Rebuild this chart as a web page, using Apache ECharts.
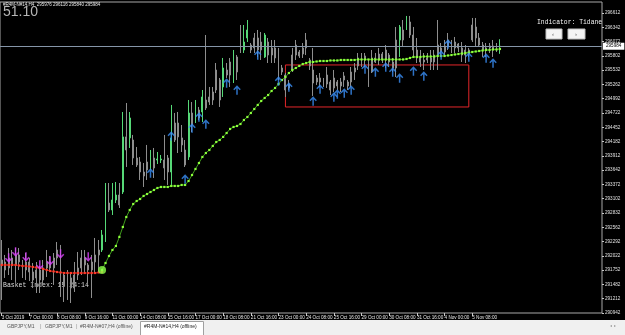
<!DOCTYPE html>
<html><head><meta charset="utf-8">
<script src="https://cdn.jsdelivr.net/npm/echarts@6.0.0/dist/echarts.min.js"></script>
<style>html,body{margin:0;padding:0;background:#000;overflow:hidden}#c{width:625px;height:335px}</style>
</head><body><div id="c"></div><script>
// ---- data ----
const tickLabels = ['3 Oct 2019','7 Oct 00:00','8 Oct 08:00','9 Oct 16:00','11 Oct 00:00','14 Oct 08:00','15 Oct 16:00','17 Oct 00:00','18 Oct 08:00','21 Oct 16:00','23 Oct 00:00','24 Oct 08:00','25 Oct 16:00','29 Oct 00:00','30 Oct 08:00','31 Oct 16:00','4 Nov 00:00','5 Nov 08:00'];
const slotCount = 174; // bars + chart shift space
const categories = Array.from({length: slotCount}, (_, i) => String(i));
// [open, close, low, high]
const candles = [
[291944,291850,291188,292322],[291906,291755,291604,292039],[291982,291793,291660,292171],[291982,291850,291566,292133],[292039,291850,291528,292171],
[292039,291906,291755,292171],[291906,291755,291604,291944],[291906,291755,291566,292076],[291906,291717,291547,291982],[291717,291566,291415,291887],
[291755,291604,291320,291906],[291755,291566,291320,291831],[291793,291566,291472,291944],[291906,291793,291623,292133],[291906,291793,291755,292020],
[291982,291793,291472,292076],[292133,291982,291850,292284],[292133,291660,291245,292228],[291660,291472,291150,291698],[291604,291472,291188,291755],
[291604,291415,291131,291698],[291660,291415,291339,291906],[291793,291660,291566,292095],[291982,291793,291660,292133],[291982,291850,291717,292133],
[291850,291755,291509,291887],[291906,291755,291226,292039],[292039,291906,291698,292360],[292133,292039,291698,292322],[292133,292417,292095,292511],
[292322,293021,292284,293399],[293021,292889,292851,293399],[292889,293078,292794,293399],[293078,293172,293021,293418],[293172,292984,292927,293399],
[293229,294270,293191,294741],[294270,294023,293702,294911],[294251,294628,294061,294741],[294212,293872,293740,294307],[293872,293740,293702,294080],
[293796,293607,293456,293891],[293607,293532,293324,293777],[293796,293645,293456,294118],[293777,293872,293645,294023],[293872,293683,293494,294061],
[293834,293853,293758,293985],[293834,293853,293777,293928],[293834,293683,293456,294307],[293872,293607,293362,293928],[293607,294251,293362,294874],
[294533,294212,294174,294722],[294533,294270,293966,294741],[294251,294118,293985,294495],[294023,293740,293702,294212],[293891,294722,293834,294968],
[294722,294495,294363,294930],[294647,294779,294533,294968],[294779,294628,294590,294836],[294741,295025,294552,295157],[294968,294817,294779,296196],
[295025,294930,294874,295214],[295119,294968,294874,295214],[295535,295157,295100,295667],[295346,294968,294836,295384],[295214,295573,295025,295762],
[295535,295440,295384,295667],[295686,295440,295214,295762],[295535,295875,295289,295913],[295781,295497,295346,295818],[296102,295913,295856,296385],
[295913,296064,295856,296385],[296140,296291,296064,296480],[296007,295913,295856,296045],[296140,295951,295856,296234],[296140,295913,295781,296291],
[296064,295913,295724,296253],[295781,296196,295762,296234],[296064,295818,295667,296140],[295951,295818,295667,296102],[295951,295762,295667,296102],
[295818,295535,295346,295951],[295573,295497,295440,295630],[295440,295157,295025,295478],[295270,295195,295157,295346],[295818,295535,295497,295951],
[296007,295818,295724,296102],[295875,295800,295762,295913],[295951,295837,295762,296045],[296102,295951,295818,296234],[295724,295611,295535,295762],
[295535,295289,295044,295951],[295384,295308,295252,295440],[295384,295308,295214,295478],[295346,295270,295214,295384],[295440,295270,295195,295592],
[295308,295157,295062,295346],[295384,295195,295119,295535],[295308,295233,295157,295346],[295308,295233,295119,295384],[295422,295346,295214,295497],
[295308,295233,295157,295346],[295497,295308,295214,295592],[295573,295497,295346,295667],[295762,295611,295535,295856],[295762,295686,295592,295856],
[295800,295724,295592,295856],[295686,295384,295214,295724],[295762,295497,295478,295913],[295762,295686,295667,295856],[295837,295724,295630,295951],
[295837,295724,295667,295875],[295913,295724,295573,296007],[295818,295686,295592,295856],[295686,295573,295497,295762],[296102,295573,295402,296348],
[296102,296348,295781,296385],[296291,296102,295970,296480],[296348,296480,296291,296556],[296442,296196,296140,296556],[296196,295913,295781,296348],
[295913,295762,295667,296140],[295762,295686,295592,295913],[295724,295686,295535,295856],[295762,295724,295667,295856],[295762,295686,295535,295913],
[295818,295686,295535,295913],[296007,295818,295535,296480],[295951,295875,295781,296045],[295989,295875,295781,296102],[296102,295989,295913,296234],
[296064,295951,295856,296102],[296064,295951,295856,296159],[296026,295951,295875,296045],[295951,295818,295686,296064],[295913,295818,295667,296007],
[295913,295837,295781,295951],[296385,296102,296064,296518],[296348,296140,295970,296518],[296140,296007,295970,296234],[296007,295913,295781,296064],
[295951,295913,295781,296045],[295989,295951,295856,296045],[295989,295913,295781,296102],[295970,295913,295875,296045],[295976,295984,295840,296116]
];
const indicatorRed = [291850,291850,291850,291850,291850,291840,291831,291831,291822,291812,291803,291793,291774,291755,291736,291727,291717,291708,291698,291698,291698,291698,291698,291698,291698,291698,291698,291698,291708,291717];
const greenStart = 29;
const indicatorGreen = [
291755,291887,292020,292133,292209,292380,292568,292756,292889,293002,
293059,293097,293154,293191,293229,293267,293305,293324,293324,293324,
293343,293343,293343,293362,293362,293437,293550,293664,293777,293891,
293966,294023,294099,294174,294212,294270,294344,294420,294458,294477,
294514,294590,294647,294722,294798,294874,294949,295006,295062,295138,
295195,295270,295346,295402,295478,295535,295573,295611,295648,295667,
295686,295686,295696,295705,295705,295705,295715,295715,295715,295724,
295724,295724,295724,295724,295734,295734,295734,295734,295734,295734,
295734,295734,295734,295734,295734,295734,295734,295734,295743,295762,
295781,295781,295781,295790,295790,295790,295790,295800,295800,295800,
295809,295818,295828,295837,295847,295856,295866,295875,295885,295894,
295904,295913,295913,295923,295923,295932];
const upIdx = [43,49,53,55,57,59,65,68,74,80,83,90,92,96,97,99,101,105,108,111,113,115,119,122,127,129,135,140,142];
const upPrice = [293588,294288,293475,294439,294647,294514,295289,295157,295818,295327,295214,294949,295176,295025,295081,295100,295157,295554,295497,295592,295497,295384,295516,295422,295818,296026,295781,295762,295667];
const downIdx = [2,4,7,11,14,17,25];
const downPrice = [291982,292095,292001,291850,291925,292058,292001];
const lastPrice = 295984;
const headerText = '#R4M-N#14,H4  295976 296116 295840 295984';
const boxFrom = 82, boxTo = 135, boxHigh = 295630, boxLow = 294836;
const yMin = 290942, yStep = 270, yMax = 296820;

// ---- chart ----
const greenData = Array(greenStart).fill(null).concat(indicatorGreen);
const arrowPath = 'path://M5,0L10,5L8.6,6.4L6,3.8L6,12L4,12L4,3.8L1.4,6.4L0,5Z';
const showTick = (i) => i % 8 === 0 && (i / 8) < tickLabels.length;
const chart = echarts.init(document.getElementById('c'), null, {renderer: 'canvas'});
const F = '"Liberation Sans", Arial, sans-serif';
chart.setOption({
  backgroundColor: '#000',
  animation: false,
  grid: {left: 0, right: 23, top: 2, bottom: 22, show: true, borderColor: '#a8a8a8', borderWidth: 1, backgroundColor: '#000', containLabel: false, outerBoundsMode: 'none'},
  xAxis: {
    type: 'category', data: categories, boundaryGap: true,
    axisLine: {show: false},
    axisTick: {show: true, alignWithLabel: true, interval: showTick, length: 3, lineStyle: {color: '#c8c8c8', width: 1}},
    axisLabel: {interval: showTick, formatter: (v, i) => tickLabels[i / 8] || '', color: '#e6e6e6', fontSize: 4.6, fontFamily: F, align: 'left', margin: 2},
    splitLine: {show: false}
  },
  yAxis: {
    type: 'value', position: 'right', min: yMin, max: yMax, interval: yStep,
    axisLine: {show: false},
    axisTick: {show: true, length: 2, lineStyle: {color: '#c8c8c8'}},
    axisLabel: {color: '#e0e0e0', fontSize: 4.6, fontFamily: F, margin: 3, showMaxLabel: false, formatter: v => String(Math.round(v))},
    splitLine: {show: false}
  },
  series: [
    {
      type: 'candlestick', data: candles, barWidth: 1.4, silent: true, z: 2,
      itemStyle: {color: '#56d977', color0: '#ababab', borderColor: '#56d977', borderColor0: '#8e8e8e', borderColorDoji: '#8e8e8e', borderWidth: 1},
      markLine: {
        silent: true, symbol: ['none', 'none'], animation: false,
        lineStyle: {color: '#8595a8', width: 1, type: 'solid'},
        label: {show: true, position: 'end', distance: 1, formatter: String(lastPrice), color: '#000', backgroundColor: '#fff', fontSize: 4.6, fontFamily: F, padding: [1, 3]},
        data: [{yAxis: lastPrice}]
      },
      markArea: {
        silent: true,
        itemStyle: {color: 'rgba(0,0,0,0)', borderColor: '#e3262a', borderWidth: 1},
        data: [[{xAxis: boxFrom, yAxis: boxHigh}, {xAxis: boxTo, yAxis: boxLow}]]
      }
    },
    {type: 'line', data: indicatorRed, symbol: 'rect', symbolSize: 2.2, showAllSymbol: true, silent: true, z: 4,
      lineStyle: {color: '#b82218', width: 1}, itemStyle: {color: '#ff3a2a'}},
    {type: 'line', data: greenData, symbol: 'rect', symbolSize: 2.2, showAllSymbol: true, silent: true, z: 4, connectNulls: false,
      lineStyle: {color: '#3f9a1c', width: 1}, itemStyle: {color: '#8cff3c'}},
    {type: 'scatter', data: [[greenStart, indicatorGreen[0]]], symbol: 'circle', symbolSize: 8, silent: true, z: 5,
      itemStyle: {color: '#8cff4a'}},
    {type: 'scatter', data: upIdx.map((i, k) => [i, upPrice[k]]), symbol: arrowPath, symbolSize: [7.5, 9.5], silent: true, z: 6,
      itemStyle: {color: '#3a8ef6'}},
    {type: 'scatter', data: downIdx.map((i, k) => [i, downPrice[k]]), symbol: arrowPath, symbolRotate: 180, symbolSize: [7.5, 9.5], silent: true, z: 6,
      itemStyle: {color: '#dd44ff'}}
  ],
  graphic: [
    {type: 'text', left: 3, top: 2, silent: true, style: {text: headerText, fill: '#e8e8e8', font: '4.5px ' + F}},
    {type: 'text', left: 3, top: 5, silent: true, style: {text: '51.10', fill: '#b6b6b6', font: '14px ' + F}},
    {type: 'text', left: 537, top: 19.5, silent: true, style: {text: 'Indicator: Tidane', fill: '#f2f2f2', font: '6.4px "Liberation Mono", monospace'}},
    {type: 'rect', silent: true, shape: {x: 546, y: 29, width: 16, height: 10}, style: {fill: '#f4f4f4', stroke: '#c0c0c0', lineWidth: 1}},
    {type: 'rect', silent: true, shape: {x: 568, y: 29, width: 17, height: 10}, style: {fill: '#f4f4f4', stroke: '#c0c0c0', lineWidth: 1}},
    {type: 'text', left: 552, top: 31, silent: true, style: {text: '‹', fill: '#555', font: '6px ' + F}},
    {type: 'text', left: 575, top: 31, silent: true, style: {text: '›', fill: '#555', font: '6px ' + F}},
    {type: 'text', left: 3, top: 281.5, silent: true, style: {text: 'Basket Index: 15:24:14', fill: '#dcdcdc', font: '6.5px "Liberation Mono", monospace'}},
    {type: 'rect', silent: true, shape: {x: 0, y: 320, width: 625, height: 15}, style: {fill: '#f0f0f0'}},
    {type: 'rect', silent: true, shape: {x: 140.5, y: 321.5, width: 63, height: 14}, style: {fill: '#ffffff', stroke: '#a0a0a0', lineWidth: 1}},
    {type: 'text', left: 7, top: 324, silent: true, style: {text: 'GBPJPY,M1', fill: '#555', font: '5px ' + F}},
    {type: 'text', left: 40, top: 323.5, silent: true, style: {text: '|', fill: '#999', font: '6px ' + F}},
    {type: 'text', left: 45, top: 324, silent: true, style: {text: 'GBPJPY,M1', fill: '#555', font: '5px ' + F}},
    {type: 'text', left: 76, top: 323.5, silent: true, style: {text: '|', fill: '#999', font: '6px ' + F}},
    {type: 'text', left: 80, top: 324, silent: true, style: {text: '#R4M-N#07,H4 (offline)', fill: '#555', font: '5px ' + F}},
    {type: 'text', left: 144, top: 324, silent: true, style: {text: '#R4M-N#14,H4 (offline)', fill: '#222', font: '5px ' + F}},
    {type: 'text', left: 610, top: 324, silent: true, style: {text: '◂  ▸', fill: '#999', font: '4px ' + F}}
  ]
});
</script></body></html>
